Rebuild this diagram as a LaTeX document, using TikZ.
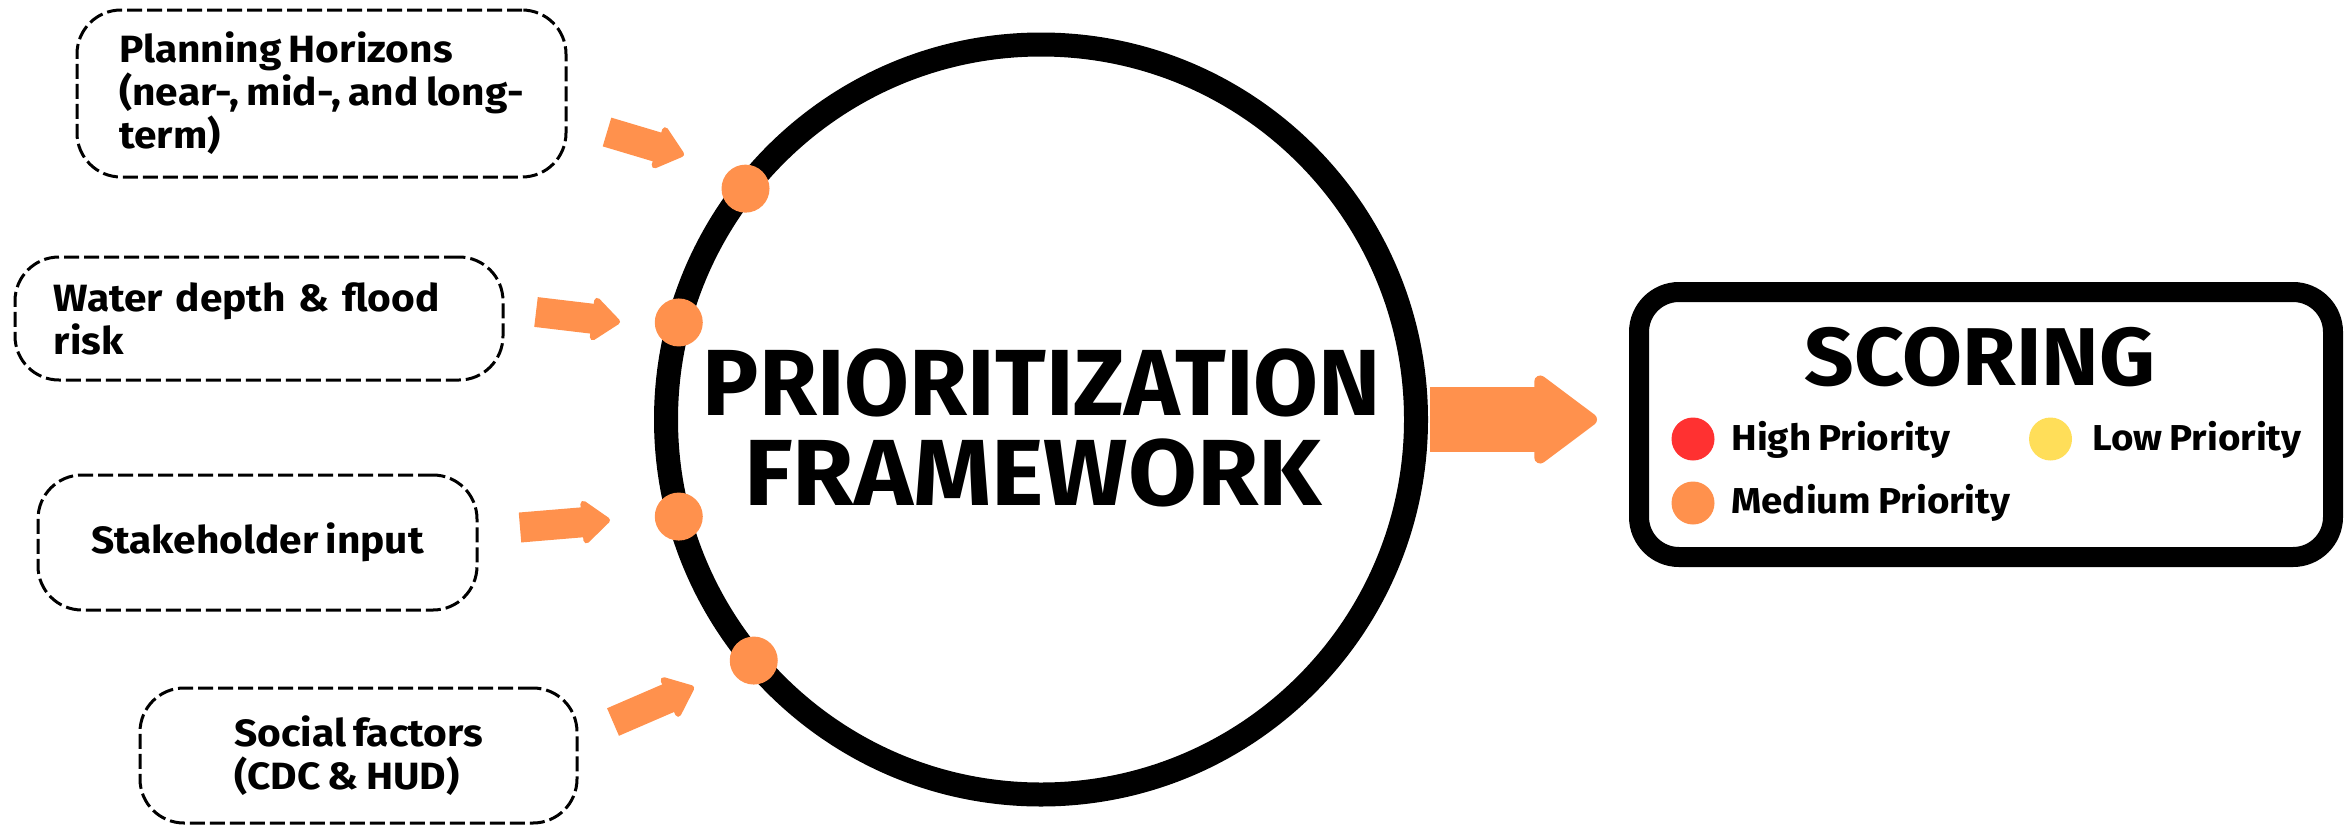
\documentclass[tikz,border=0pt]{standalone}
\usepackage{fontspec}
\setmainfont{Fira Sans}
\newfontfamily\headfont{Fira Sans}
\newfontfamily\headfontw[FakeStretch=1.06]{Fira Sans}
\newfontfamily\boxfont[FakeStretch=1.07, WordSpace=0.75]{Fira Sans}
\usetikzlibrary{arrows.meta,calc}
\definecolor{orng}{HTML}{FF914D}
\definecolor{redp}{HTML}{FF3131}
\definecolor{yelp}{HTML}{FFDE59}
\begin{document}
\begin{tikzpicture}[x=0.5pt,y=-0.5pt,
  dbox/.style={draw, line width=1.5pt, dash pattern=on 7.5pt off 2.5pt, rounded corners=22pt,
    rectangle, inner xsep=19pt, inner ysep=0pt, outer sep=0pt,
    font=\boxfont\bfseries\fontsize{19pt}{21.5pt}\selectfont},
  dleft/.style={dbox, align=left},
  dcenter/.style={dbox, align=center},
  dot/.style={circle, fill=orng, inner sep=0pt, minimum size=24pt},
  ldot/.style={circle, inner sep=0pt, minimum size=21.5pt},
  smallarrow/.style={draw=orng, line width=15pt, -{Triangle[length=15pt,width=24pt,round,line width=3pt]}},
  bigarrow/.style={draw=orng, line width=32.5pt, -{Triangle[length=33.5pt,width=48.5pt,round,line width=6pt]}},
  head/.style={font=\headfont\bfseries\fontsize{47pt}{47pt}\selectfont, inner sep=0pt, anchor=base},
  legtext/.style={font=\boxfont\bfseries\fontsize{18pt}{20pt}\selectfont, inner sep=0pt, anchor=base west}
]
\useasboundingbox (0,0) rectangle (2349,825);

% input boxes
\node[dleft, minimum width=244.5pt, minimum height=83.5pt] (b1) at (321.5,93.5)
  {Planning Horizons\\(near-, mid-, and long-\\term)};
\node[dleft, text width=205pt, inner xsep=19.5pt, minimum height=61.5pt] (b2) at (259,318.5)
  {Water depth \& flood\\risk};
\node[dcenter, minimum width=219.5pt, minimum height=67.5pt] (b3) at (257.5,542.5)
  {Stakeholder input};
\node[dleft, minimum width=218.5pt, minimum height=67.5pt] (b4) at (358.5,755.5)
  {Social factors\\(CDC \& HUD)};

% central circle
\node[circle, draw, line width=12pt, minimum size=375pt, inner sep=0pt, outer sep=0pt] (pf) at (1041,419.5) {};
\node[head] (pft1) at (1042,415) {PRIORITIZATION};
\node[head, font=\headfontw\bfseries\fontsize{47pt}{47pt}\selectfont] (pft2) at (1033,505) {FRAMEWORK};

% dots on circle
\node[dot] (d1) at (pf.142) {};
\node[dot] (d2) at (pf.165) {};
\node[dot] (d3) at (pf.195) {};
\node[dot] (d4) at (pf.220) {};

% small arrows
\coordinate (t1) at (607,132); \coordinate (h1) at (684,155);
\coordinate (t2) at (536,312); \coordinate (h2) at (620,322);
\coordinate (t3) at (520,527.5); \coordinate (h3) at (610,520);
\coordinate (t4) at (613,722); \coordinate (h4) at (694,687);
\draw[smallarrow] (t1) -- (h1);
\draw[smallarrow] (t2) -- (h2);
\draw[smallarrow] (t3) -- (h3);
\draw[smallarrow] (t4) -- (h4);

% scoring box
\node[draw, line width=10pt, rounded corners=20pt, rectangle, inner sep=0pt, outer sep=0pt,
  minimum width=347pt, minimum height=132.5pt] (sc) at (1986,424.5) {};
\draw[bigarrow] ($(pf.east)+(7pt,0)$) -- ($(pf.east -| sc.west)+(-21pt,0)$);

\node[head, font=\headfontw\bfseries\fontsize{41pt}{41pt}\selectfont] (sct) at (1980,385) {SCORING};
\node[ldot, fill=redp] (lr) at (1693,439) {};
\node[ldot, fill=yelp] (ly) at (2050.5,439) {};
\node[ldot, fill=orng] (lo) at (1693,503) {};
\node[legtext] (lrt) at (1731,450) {High Priority};
\node[legtext] (lyt) at (2092,450) {Low Priority};
\node[legtext] (lot) at (1731,513) {Medium Priority};
\end{tikzpicture}
\end{document}
